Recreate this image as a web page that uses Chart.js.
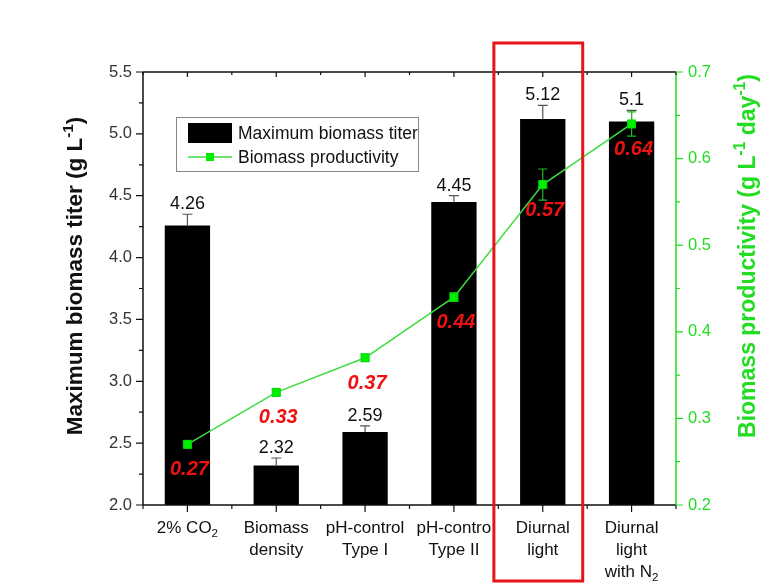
<!DOCTYPE html>
<html>
<head>
<meta charset="utf-8">
<script src="https://cdn.jsdelivr.net/npm/chart.js@4.4.1/dist/chart.umd.min.js"></script>
<style>
  html, body { margin: 0; padding: 0; background: #ffffff; }
  #wrap { width: 772px; height: 586px; }
</style>
</head>
<body>
<div id="wrap"><canvas id="c" width="772" height="586"></canvas></div>
<script>
// Culture conditions (x categories); _{..} marks a subscript
const categories = [
  ['2% CO_{2}'],
  ['Biomass', 'density'],
  ['pH-control', 'Type I'],
  ['pH-contro', 'Type II'],
  ['Diurnal', 'light'],
  ['Diurnal', 'light', 'with N_{2}']
];
// Maximum biomass titer (g/L) with standard deviation
const titerValues = [4.26, 2.32, 2.59, 4.45, 5.12, 5.1];
const titerErrors = [0.09, 0.06, 0.05, 0.05, 0.11, 0.09];
// Biomass productivity (g/L/day) with standard deviation
const productivityValues = [0.27, 0.33, 0.37, 0.44, 0.57, 0.64];
const productivityErrors = [0.003, 0.004, 0.004, 0.005, 0.018, 0.014];
// Axis ticks
const titerTicks = [2.0, 2.5, 3.0, 3.5, 4.0, 4.5, 5.0, 5.5];
const productivityTicks = [0.2, 0.3, 0.4, 0.5, 0.6, 0.7];
// Highlighted condition
const highlightIndex = 4;

const FONT = '"Liberation Sans", Arial, Helvetica, sans-serif';
const GREEN = '#22dd22';
const LINE_GREEN = '#3fdc3f';
const MARK_GREEN = '#00ee00';
const RED = '#ee1111';

function fontStr(size, weight, style) {
  return (style || 'normal') + ' ' + (weight || 'normal') + ' ' + size + 'px ' + FONT;
}

// split "abc_{2}def^{-1}" into segments
function parseRich(text) {
  const parts = text.split(/(\^\{[^}]*\}|_\{[^}]*\})/).filter(s => s.length);
  return parts.map(p => {
    if (p.startsWith('^{')) return { t: p.slice(2, -1), kind: 'sup' };
    if (p.startsWith('_{')) return { t: p.slice(2, -1), kind: 'sub' };
    return { t: p, kind: 'norm' };
  });
}

// draw rich text centred (or left-aligned) at x, with alphabetic baseline y
function drawRich(ctx, text, x, y, size, weight, style, color, align) {
  const segs = parseRich(text);
  let total = 0;
  segs.forEach(s => {
    s.size = s.kind === 'norm' ? size : size * 0.68;
    ctx.font = fontStr(s.size, weight, style);
    s.w = ctx.measureText(s.t).width;
    total += s.w;
  });
  let cx = align === 'left' ? x : x - total / 2;
  ctx.fillStyle = color;
  ctx.textBaseline = 'alphabetic';
  ctx.textAlign = 'left';
  segs.forEach(s => {
    ctx.font = fontStr(s.size, weight, style);
    let dy = 0;
    if (s.kind === 'sup') dy = -size * 0.42;
    if (s.kind === 'sub') dy = size * 0.22;
    ctx.fillText(s.t, cx, y + dy);
    cx += s.w;
  });
}

const decorPlugin = {
  id: 'decor',
  afterDatasetDraw(chart, args) {
    if (args.index !== 0) return;
    const ctx = chart.ctx;
    const x = chart.scales.x, y = chart.scales.y, y1 = chart.scales.y1;
    ctx.save();
    // error bars on the bars (upper half)
    ctx.strokeStyle = '#555555';
    ctx.lineWidth = 1.2;
    titerValues.forEach((v, i) => {
      const px = x.getPixelForValue(i);
      const top = y.getPixelForValue(v + titerErrors[i]);
      const base = y.getPixelForValue(v);
      ctx.beginPath();
      ctx.moveTo(px, base); ctx.lineTo(px, top);
      ctx.moveTo(px - 5, top); ctx.lineTo(px + 5, top);
      ctx.stroke();
    });
    // error bars on the productivity points
    ctx.strokeStyle = '#22bb22';
    productivityValues.forEach((v, i) => {
      const px = x.getPixelForValue(i);
      const hi = y1.getPixelForValue(v + productivityErrors[i]);
      const lo = y1.getPixelForValue(v - productivityErrors[i]);
      ctx.beginPath();
      ctx.moveTo(px, lo); ctx.lineTo(px, hi);
      ctx.moveTo(px - 4.5, hi); ctx.lineTo(px + 4.5, hi);
      ctx.moveTo(px - 4.5, lo); ctx.lineTo(px + 4.5, lo);
      ctx.stroke();
    });
    ctx.restore();
  },
  afterDraw(chart) {
    const ctx = chart.ctx;
    const area = chart.chartArea;
    const x = chart.scales.x, y = chart.scales.y, y1 = chart.scales.y1;
    const L = area.left, R = area.right, T = area.top, B = area.bottom;
    ctx.save();

    // value labels above the bars
    titerValues.forEach((v, i) => {
      const px = x.getPixelForValue(i);
      const top = y.getPixelForValue(v + titerErrors[i]);
      drawRich(ctx, String(v), px, top - 5, 18, 'normal', 'normal', '#111111', 'center');
    });
    // productivity labels below the points
    productivityValues.forEach((v, i) => {
      const px = x.getPixelForValue(i);
      const py = y1.getPixelForValue(v);
      drawRich(ctx, v.toFixed(2), px + 2, py + 31, 20, 'bold', 'italic', RED, 'center');
    });

    // frame
    ctx.lineWidth = 1.5;
    ctx.strokeStyle = '#111111';
    ctx.beginPath();
    ctx.moveTo(L, T); ctx.lineTo(R, T);
    ctx.moveTo(L, B); ctx.lineTo(R, B);
    ctx.moveTo(L, T); ctx.lineTo(L, B);
    ctx.stroke();
    ctx.strokeStyle = GREEN;
    ctx.beginPath();
    ctx.moveTo(R, T); ctx.lineTo(R, B);
    ctx.stroke();

    // left axis ticks
    ctx.strokeStyle = '#111111';
    ctx.lineWidth = 1.2;
    ctx.beginPath();
    titerTicks.forEach((v, i) => {
      const py = y.getPixelForValue(v);
      ctx.moveTo(L - 7, py); ctx.lineTo(L, py);
      if (i < titerTicks.length - 1) {
        const pm = y.getPixelForValue(v + 0.25);
        ctx.moveTo(L - 4, pm); ctx.lineTo(L, pm);
      }
    });
    // bottom and top axis ticks
    const n = categories.length;
    for (let i = 0; i < n; i++) {
      const pc = x.getPixelForValue(i);
      ctx.moveTo(pc, B); ctx.lineTo(pc, B + 7);
      ctx.moveTo(pc, T); ctx.lineTo(pc, T + 5);
    }
    for (let i = 0; i <= n; i++) {
      const pb = x.getPixelForValue(i - 0.5);
      ctx.moveTo(pb, B); ctx.lineTo(pb, B + 4);
      ctx.moveTo(pb, T); ctx.lineTo(pb, T + 3);
    }
    ctx.stroke();
    // right axis ticks
    ctx.strokeStyle = GREEN;
    ctx.beginPath();
    productivityTicks.forEach((v, i) => {
      const py = y1.getPixelForValue(v);
      ctx.moveTo(R, py); ctx.lineTo(R + 7, py);
      if (i < productivityTicks.length - 1) {
        const pm = y1.getPixelForValue(v + 0.05);
        ctx.moveTo(R, pm); ctx.lineTo(R + 4, pm);
      }
    });
    ctx.stroke();

    // category labels
    categories.forEach((lines, i) => {
      const pc = x.getPixelForValue(i);
      lines.forEach((ln, k) => {
        drawRich(ctx, ln, pc, B + 28 + k * 22, 17, 'normal', 'normal', '#111111', 'center');
      });
    });

    // axis titles
    ctx.save();
    ctx.translate(82, 276);
    ctx.rotate(-Math.PI / 2);
    drawRich(ctx, 'Maximum biomass titer (g L^{-1})', 0, 0, 22.5, 'bold', 'normal', '#111111', 'center');
    ctx.restore();
    ctx.save();
    ctx.translate(755, 256);
    ctx.rotate(-Math.PI / 2);
    drawRich(ctx, 'Biomass productivity (g L^{-1} day^{-1})', 0, 0, 23, 'bold', 'normal', GREEN, 'center');
    ctx.restore();

    // legend
    const lx = L + 33, ly = T + 45;
    ctx.fillStyle = '#ffffff';
    ctx.fillRect(lx, ly, 242, 54);
    ctx.strokeStyle = '#888888';
    ctx.lineWidth = 1;
    ctx.strokeRect(lx + 0.5, ly + 0.5, 242, 54);
    ctx.fillStyle = '#000000';
    ctx.fillRect(lx + 12, ly + 6, 44, 20);
    drawRich(ctx, 'Maximum biomass titer', lx + 62, ly + 22, 17.5, 'normal', 'normal', '#111111', 'left');
    ctx.strokeStyle = LINE_GREEN;
    ctx.lineWidth = 1.5;
    ctx.beginPath();
    ctx.moveTo(lx + 12, ly + 40); ctx.lineTo(lx + 56, ly + 40);
    ctx.stroke();
    ctx.fillStyle = MARK_GREEN;
    ctx.fillRect(lx + 30, ly + 36, 8, 8);
    drawRich(ctx, 'Biomass productivity', lx + 62, ly + 46, 17.5, 'normal', 'normal', '#111111', 'left');

    // highlight box around one condition
    const cw = x.getPixelForValue(1) - x.getPixelForValue(0);
    const hc = x.getPixelForValue(highlightIndex);
    ctx.strokeStyle = '#e8141b';
    ctx.lineWidth = 3;
    ctx.strokeRect(hc - 0.55 * cw, T - 29, cw, chart.height - 5 - (T - 29));

    ctx.restore();
  }
};

new Chart(document.getElementById('c'), {
  data: {
    labels: categories.map(c => c.join(' ')),
    datasets: [
      {
        type: 'bar',
        label: 'Maximum biomass titer',
        data: titerValues,
        yAxisID: 'y',
        backgroundColor: '#000000',
        borderWidth: 0,
        barPercentage: 0.51,
        categoryPercentage: 1.0,
        order: 1
      },
      {
        type: 'line',
        label: 'Biomass productivity',
        data: productivityValues,
        yAxisID: 'y1',
        borderColor: LINE_GREEN,
        borderWidth: 1.5,
        pointStyle: 'rect',
        pointRadius: 5.7,
        pointBackgroundColor: MARK_GREEN,
        pointBorderColor: '#00dd00',
        pointBorderWidth: 1,
        tension: 0,
        fill: false,
        order: 0
      }
    ]
  },
  options: {
    responsive: false,
    animation: false,
    devicePixelRatio: 1,
    layout: { padding: { top: 72, left: 0, right: 0, bottom: 0 } },
    plugins: { legend: { display: false }, tooltip: { enabled: false } },
    scales: {
      x: {
        type: 'category',
        offset: true,
        grid: { display: false },
        border: { display: false },
        ticks: { display: false },
        afterFit: s => { s.height = 81; }
      },
      y: {
        position: 'left',
        min: 2.0,
        max: 5.5,
        grid: { display: false, drawTicks: false },
        border: { display: false },
        afterBuildTicks: s => { s.ticks = titerTicks.map(v => ({ value: v })); },
        ticks: {
          padding: 11,
          color: '#333333',
          font: { family: FONT, size: 16.5 },
          callback: v => Number(v).toFixed(1)
        },
        afterFit: s => { s.width = 143; }
      },
      y1: {
        position: 'right',
        min: 0.2,
        max: 0.7,
        grid: { display: false, drawTicks: false },
        border: { display: false },
        afterBuildTicks: s => { s.ticks = productivityTicks.map(v => ({ value: v })); },
        ticks: {
          padding: 12,
          color: GREEN,
          font: { family: FONT, size: 16.5 },
          callback: v => Number(v).toFixed(1)
        },
        afterFit: s => { s.width = 96; }
      }
    }
  },
  plugins: [decorPlugin]
});
</script>
</body>
</html>
